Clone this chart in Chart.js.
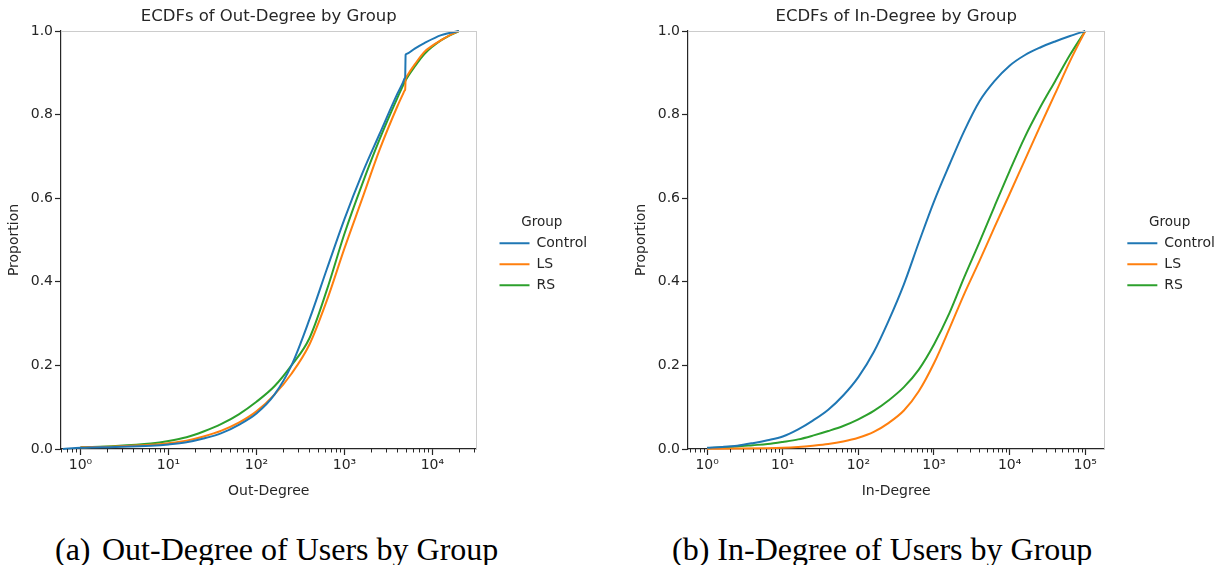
<!DOCTYPE html>
<html>
<head>
<meta charset="utf-8">
<script src="https://cdn.jsdelivr.net/npm/chart.js@4.4.1/dist/chart.umd.min.js"></script>
<style>
  html, body { margin: 0; padding: 0; background: #fff; overflow: hidden; }
  body { width: 1223px; height: 565px; position: relative; }
  canvas { position: absolute; top: 0; }
  .caption { position: absolute; top: 533px; font-family: "Liberation Serif", "Times New Roman", serif; font-size: 32px; line-height: 1; color: #000; white-space: pre; }
</style>
</head>
<body>
<canvas id="outChart" width="591" height="510" style="left:0"></canvas>
<canvas id="inChart" width="592" height="510" style="left:627px"></canvas>
<div class="caption" style="left:55px">(a)</div>
<div class="caption" style="left:102px">Out-Degree of Users by Group</div>
<div class="caption" style="left:672px">(b) In-Degree of Users by Group</div>
<script>
const groups = ["Control", "LS", "RS"];
const groupColors = ["#1f77b4", "#ff7f0e", "#2ca02c"];

// ECDF of out-degree, one degree/proportion pair of arrays per group
const outControlDeg  = [0.63, 1, 2.5, 6.3, 10, 16, 25, 40, 63, 100, 160, 250, 400, 630, 1000, 1600, 2500, 4000, 4600, 4850, 4900, 4960, 5050, 6300, 8100, 12600, 20000];
const outControlProp = [0.0, 0.003, 0.005, 0.008, 0.011, 0.016, 0.025, 0.038, 0.058, 0.085, 0.13, 0.2, 0.31, 0.43, 0.55, 0.66, 0.753, 0.85, 0.876, 0.887, 0.89, 0.943, 0.945, 0.958, 0.971, 0.99, 1.0];
const outLSDeg  = [1, 2.5, 6.3, 10, 16, 25, 40, 63, 100, 160, 250, 400, 630, 1000, 1600, 2500, 4000, 4600, 4850, 4900, 4960, 5050, 6300, 8100, 10000, 12600, 15800, 20000];
const outLSProp = [0.004, 0.006, 0.01, 0.014, 0.02, 0.03, 0.044, 0.063, 0.09, 0.13, 0.18, 0.25, 0.355, 0.48, 0.6, 0.715, 0.82, 0.848, 0.858, 0.86, 0.885, 0.89, 0.92, 0.95, 0.965, 0.978, 0.99, 1.0];
const outRSDeg  = [1, 2.5, 6.3, 10, 16, 25, 40, 63, 100, 160, 250, 400, 630, 1000, 1600, 2500, 4000, 4900, 6300, 8100, 12600, 20000];
const outRSProp = [0.004, 0.007, 0.013, 0.019, 0.028, 0.042, 0.06, 0.083, 0.113, 0.15, 0.2, 0.265, 0.38, 0.515, 0.635, 0.74, 0.84, 0.88, 0.915, 0.945, 0.978, 1.0];

// ECDF of in-degree
const inControlDeg  = [1, 1.6, 2.5, 4, 6.3, 10, 16, 25, 40, 63, 100, 160, 250, 400, 630, 1000, 1600, 2500, 4000, 6300, 10000, 15800, 25000, 40000, 63000, 100000];
const inControlProp = [0.003, 0.005, 0.008, 0.014, 0.021, 0.03, 0.047, 0.068, 0.094, 0.128, 0.172, 0.232, 0.306, 0.394, 0.494, 0.592, 0.68, 0.76, 0.832, 0.88, 0.917, 0.942, 0.96, 0.975, 0.988, 1.0];
const inLSDeg  = [1, 2.5, 6.3, 10, 16, 25, 40, 63, 100, 160, 250, 400, 630, 1000, 1600, 2500, 4000, 6300, 10000, 15800, 25000, 40000, 63000, 100000];
const inLSProp = [0.0005, 0.001, 0.002, 0.003, 0.005, 0.008, 0.012, 0.018, 0.027, 0.041, 0.062, 0.092, 0.138, 0.205, 0.288, 0.37, 0.45, 0.53, 0.61, 0.69, 0.77, 0.85, 0.928, 1.0];
const inRSDeg  = [1, 1.6, 2.5, 4, 6.3, 10, 16, 25, 40, 63, 100, 160, 250, 400, 630, 1000, 1600, 2500, 4000, 6300, 10000, 15800, 25000, 40000, 63000, 100000];
const inRSProp = [0.002, 0.004, 0.006, 0.009, 0.012, 0.017, 0.023, 0.032, 0.043, 0.055, 0.071, 0.091, 0.116, 0.148, 0.19, 0.25, 0.325, 0.41, 0.495, 0.58, 0.665, 0.745, 0.815, 0.88, 0.943, 1.0];

// axis ticks
const outTickValues = [1, 10, 100, 1000, 10000];
const outTickLabels = ["10⁰", "10¹", "10²", "10³", "10⁴"];
const inTickValues = [1, 10, 100, 1000, 10000, 100000];
const inTickLabels = ["10⁰", "10¹", "10²", "10³", "10⁴", "10⁵"];

const INK = "#262626";
Chart.defaults.font.family = '"DejaVu Sans", sans-serif';
Chart.defaults.color = INK;

function toPoints(deg, prop) {
  return deg.map((d, i) => ({ x: d, y: prop[i] }));
}

// minor log ticks (2..9 x 10^n) inside the axis range
function minorTicks(min, max) {
  const out = [];
  for (let e = -1; e <= 6; e++) {
    for (let k = 2; k <= 9; k++) {
      const v = k * Math.pow(10, e);
      if (v > min && v < max) out.push(v);
    }
  }
  return out;
}

// panel title over the plot area, light top spine, short minor ticks
const panelDecor = {
  id: "panelDecor",
  afterDraw(chart, args, opts) {
    const { ctx, chartArea: a } = chart;
    const x = chart.scales.x;
    ctx.save();
    ctx.strokeStyle = "#cccccc";
    ctx.lineWidth = 1;
    ctx.beginPath();
    ctx.moveTo(a.left, a.top + 0.5);
    ctx.lineTo(a.right, a.top + 0.5);
    ctx.stroke();

    ctx.strokeStyle = INK;
    ctx.lineWidth = 1;
    ctx.beginPath();
    minorTicks(x.min, x.max).forEach(v => {
      const px = Math.round(x.getPixelForValue(v)) + 0.5;
      ctx.moveTo(px, a.bottom);
      ctx.lineTo(px, a.bottom + 3.5);
    });
    ctx.stroke();

    ctx.fillStyle = INK;
    ctx.font = '16.5px "DejaVu Sans", sans-serif';
    ctx.textAlign = "center";
    ctx.textBaseline = "alphabetic";
    ctx.fillText(opts.text, (a.left + a.right) / 2, 21);
    ctx.restore();
  }
};

function makeChart(canvasId, title, xTitle, xMin, xMax, tickValues, tickLabels, series) {
  return new Chart(document.getElementById(canvasId), {
    type: "line",
    data: {
      datasets: series.map((pts, i) => ({
        label: groups[i],
        data: pts,
        borderColor: groupColors[i],
        backgroundColor: groupColors[i],
        borderWidth: 2,
        pointRadius: 0,
        cubicInterpolationMode: "monotone",
        clip: 3
      }))
    },
    options: {
      responsive: false,
      animation: false,
      layout: { padding: { top: 31, left: 0, right: 0, bottom: 0 } },
      scales: {
        x: {
          type: "logarithmic",
          min: xMin,
          max: xMax,
          afterBuildTicks: scale => {
            scale.ticks = tickValues.map(v => ({ value: v, major: true }));
          },
          afterFit: scale => { scale.height = 61; },
          ticks: {
            autoSkip: false,
            maxRotation: 0,
            padding: 2,
            font: { size: 14 },
            callback: (value) => tickLabels[tickValues.indexOf(value)]
          },
          grid: { drawOnChartArea: false, tickLength: 6, tickColor: INK, tickWidth: 1.2 },
          border: { color: INK, width: 1.2 },
          title: { display: true, text: xTitle, font: { size: 14 }, padding: { top: 0, bottom: 10 } }
        },
        y: {
          min: 0,
          max: 1,
          afterFit: scale => { scale.width = 61; },
          ticks: {
            stepSize: 0.2,
            padding: 2,
            font: { size: 14 },
            callback: v => v.toFixed(1)
          },
          grid: { drawOnChartArea: false, tickLength: 6, tickColor: INK, tickWidth: 1.2 },
          border: { color: INK, width: 1.2 },
          title: { display: true, text: "Proportion", font: { size: 14 }, padding: { top: 6, bottom: 0 } }
        },
        y2: {
          position: "right",
          min: 0,
          max: 1,
          afterFit: scale => { scale.width = 16; },
          ticks: { display: false },
          grid: { display: false, drawTicks: false },
          border: { color: "#cccccc", width: 1 }
        }
      },
      plugins: {
        tooltip: { enabled: false },
        panelDecor: { text: title },
        legend: {
          position: "right",
          fullSize: false,
          align: "center",
          labels: {
            usePointStyle: true,
            pointStyle: "line",
            pointStyleWidth: 30,
            padding: 7,
            color: INK,
            font: { size: 14 }
          },
          title: {
            display: true,
            text: "Group",
            color: INK,
            font: { size: 13.5, lineHeight: 1 },
            padding: { top: 35, bottom: 0 }
          }
        }
      }
    },
    plugins: [panelDecor]
  });
}

makeChart("outChart", "ECDFs of Out-Degree by Group", "Out-Degree", 0.623, 31700,
  outTickValues, outTickLabels,
  [toPoints(outControlDeg, outControlProp), toPoints(outLSDeg, outLSProp), toPoints(outRSDeg, outRSProp)]);

makeChart("inChart", "ECDFs of In-Degree by Group", "In-Degree", 0.559, 179000,
  inTickValues, inTickLabels,
  [toPoints(inControlDeg, inControlProp), toPoints(inLSDeg, inLSProp), toPoints(inRSDeg, inRSProp)]);
</script>
</body>
</html>
